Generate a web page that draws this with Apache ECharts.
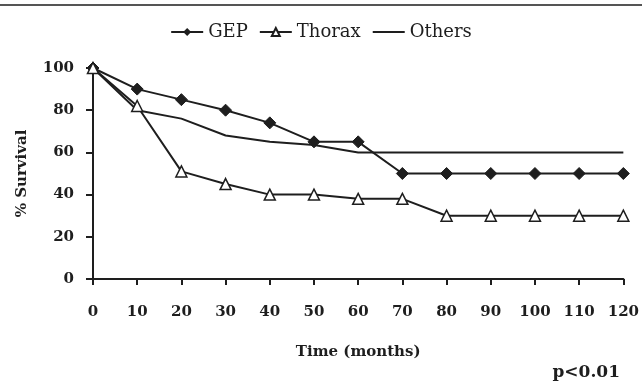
<!DOCTYPE html>
<html>
<head>
<meta charset="utf-8">
<script src="https://cdn.jsdelivr.net/npm/echarts@6/dist/echarts.min.js"></script>
<style>html,body{margin:0;padding:0;background:#fff}#c{width:642px;height:388px}</style>
</head>
<body>
<div id="c"></div>
<script>
const months = [0, 10, 20, 30, 40, 50, 60, 70, 80, 90, 100, 110, 120];
const gep = [100, 90, 85, 80, 74, 65, 65, 50, 50, 50, 50, 50, 50];
const thorax = [100, 82, 51, 45, 40, 40, 38, 38, 30, 30, 30, 30, 30];
const others = [100, 80, 76, 68, 65, 63.5, 60, 60, 60, 60, 60, 60, 60];
const seriesNames = ['GEP', 'Thorax', 'Others'];
const yTicks = [0, 20, 40, 60, 80, 100];

const pair = arr => months.map((m, i) => [m, arr[i]]);
const font = 'DejaVu Serif';
const ink = '#1e1e1e';

const chart = echarts.init(document.getElementById('c'), null, {renderer: 'canvas'});
chart.setOption({
  animation: false,
  backgroundColor: '#fff',
  textStyle: {fontFamily: font, color: ink},
  legend: {
    top: 18,
    left: 'center',
    itemGap: 11,
    itemWidth: 32,
    itemHeight: 10,
    textStyle: {fontFamily: font, fontSize: 18, color: ink},
    data: [
      {name: seriesNames[0]},
      {name: seriesNames[1]},
      {name: seriesNames[2], itemStyle: {opacity: 0}}
    ]
  },
  grid: {left: 93, right: 18, top: 68, bottom: 109},
  xAxis: {
    type: 'value', min: 0, max: 120, interval: 10,
    name: 'Time (months)', nameLocation: 'middle', nameGap: 66,
    nameTextStyle: {fontFamily: font, fontWeight: 'bold', fontSize: 15, color: ink},
    axisLine: {lineStyle: {color: ink, width: 2}},
    axisTick: {length: 6, lineStyle: {color: ink, width: 2}},
    axisLabel: {margin: 26, fontFamily: font, fontWeight: 'bold', fontSize: 15, color: ink},
    splitLine: {show: false}
  },
  yAxis: {
    type: 'value', min: 0, max: 100, interval: 20,
    name: '% Survival', nameLocation: 'middle', nameGap: 63,
    nameTextStyle: {fontFamily: font, fontWeight: 'bold', fontSize: 15, color: ink},
    axisLine: {show: true, lineStyle: {color: ink, width: 2}},
    axisTick: {show: true, length: 7, lineStyle: {color: ink, width: 2}},
    axisLabel: {margin: 19, fontFamily: font, fontWeight: 'bold', fontSize: 15, color: ink,
      formatter: v => yTicks.includes(v) ? String(v) : ''},
    splitLine: {show: false}
  },
  series: [
    {
      name: seriesNames[0], type: 'line', data: pair(gep),
      symbol: 'diamond', symbolSize: 12,
      lineStyle: {color: ink, width: 2},
      itemStyle: {color: ink, borderColor: ink}
    },
    {
      name: seriesNames[1], type: 'line', data: pair(thorax),
      symbol: 'triangle', symbolSize: 11,
      lineStyle: {color: ink, width: 2},
      itemStyle: {color: '#fff', borderColor: ink, borderWidth: 1.5}
    },
    {
      name: seriesNames[2], type: 'line', data: pair(others),
      symbol: 'none', showSymbol: false,
      lineStyle: {color: ink, width: 2},
      itemStyle: {color: ink}
    }
  ],
  graphic: [
    {type: 'line', shape: {x1: 0, y1: 5, x2: 642, y2: 5}, style: {stroke: '#555', lineWidth: 2}},
    {type: 'text', right: 22, top: 364, style: {text: 'p<0.01', font: 'bold 17px "DejaVu Serif"', fill: ink}}
  ]
});
</script>
</body>
</html>
